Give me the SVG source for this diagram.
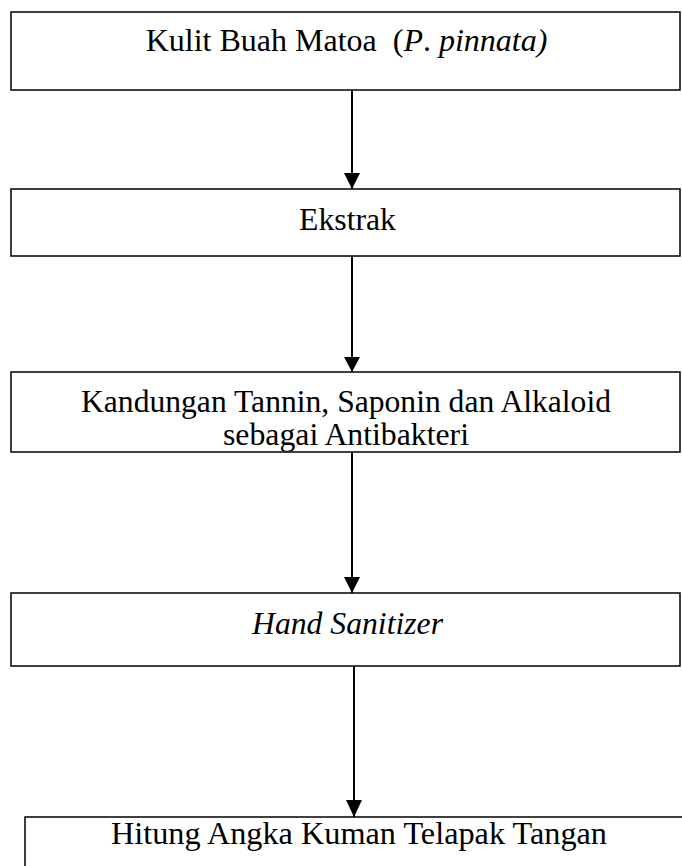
<svg xmlns="http://www.w3.org/2000/svg" width="682" height="866" viewBox="0 0 682 866">
<style>
.box{fill:#fff;stroke:#000;stroke-width:1.5}
.t{font-family:"Liberation Serif","Times New Roman",serif;font-size:32px;fill:#000;text-anchor:middle}
.i{font-style:italic}
.c{stroke:#000;stroke-width:2;fill:none}
</style>
<defs>
<clipPath id="c3"><rect x="10" y="372" width="672" height="79.5"/></clipPath>
</defs>
<rect width="682" height="866" fill="#fff"/>
<g id="connectors">
<path class="c" d="M352,90 V189"/>
<path class="c" d="M352,256 V372"/>
<path class="c" d="M352,452 V593"/>
<path class="c" d="M354,666 V817"/>
<path d="M344,173 L360,173 L352,189 Z"/>
<path d="M344,357 L360,357 L352,372 Z"/>
<path d="M344,577 L360,577 L352,593 Z"/>
<path d="M346,800 L362,800 L354,817 Z"/>
</g>
<g id="n1">
<rect class="box" x="11" y="12" width="669" height="78"/>
<text class="t" x="346.5" y="51" xml:space="preserve">Kulit Buah Matoa  (<tspan class="i">P</tspan>. <tspan class="i">pinnata)</tspan></text>
</g>
<g id="n2">
<rect class="box" x="11" y="189" width="669" height="67"/>
<text class="t" x="347.5" y="230" textLength="97" lengthAdjust="spacingAndGlyphs">Ekstrak</text>
</g>
<g id="n3">
<rect class="box" x="11" y="372" width="669" height="80"/>
<g clip-path="url(#c3)">
<text class="t" x="346" y="412" textLength="530" lengthAdjust="spacingAndGlyphs">Kandungan Tannin, Saponin dan Alkaloid</text>
<text class="t" x="346" y="445" textLength="246" lengthAdjust="spacingAndGlyphs">sebagai Antibakteri</text>
</g>
</g>
<g id="n4">
<rect class="box" x="11" y="593" width="669" height="73"/>
<text class="t i" x="347.5" y="634" textLength="191" lengthAdjust="spacingAndGlyphs">Hand Sanitizer</text>
</g>
<g id="n5">
<rect class="box" x="25" y="817" width="680" height="80"/>
<text class="t" x="359" y="844" textLength="496" lengthAdjust="spacingAndGlyphs">Hitung Angka Kuman Telapak Tangan</text>
</g>
</svg>
